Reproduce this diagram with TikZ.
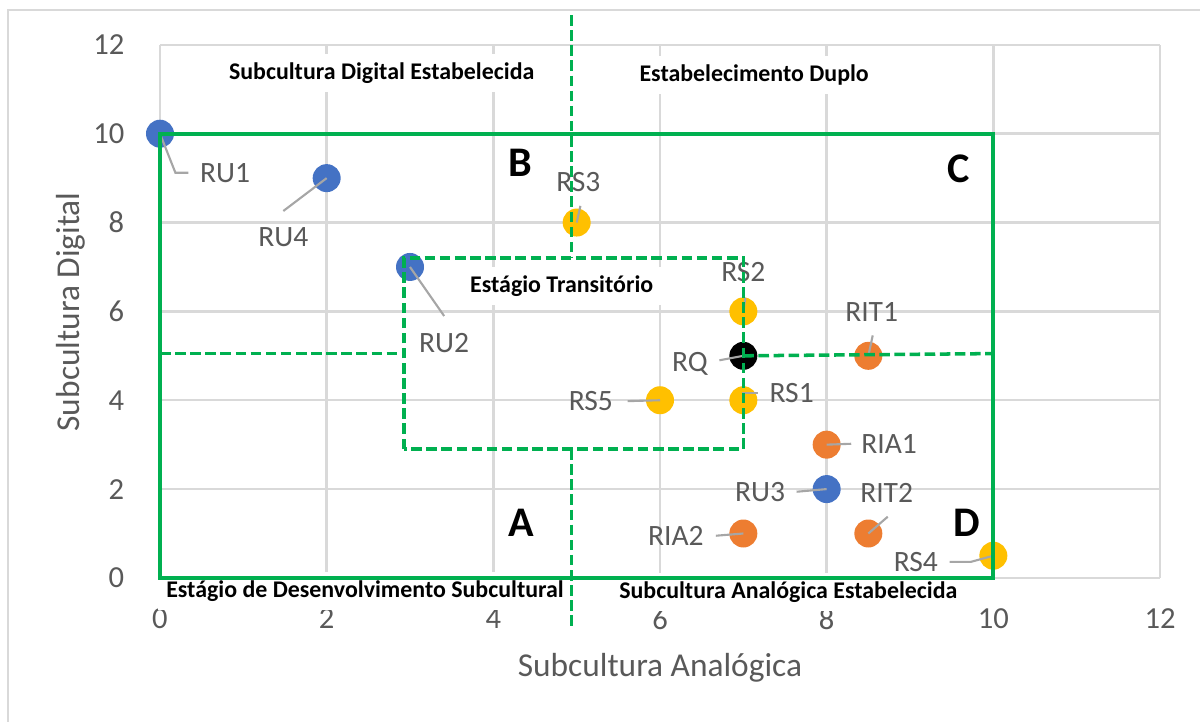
\documentclass[tikz,border=0pt]{standalone}
\usepackage{fontspec}
\setmainfont{Carlito}
\usetikzlibrary{positioning}
\definecolor{ChartBlue}{HTML}{4472C4}
\definecolor{ChartOrange}{HTML}{ED7D31}
\definecolor{ChartGold}{HTML}{FFC000}
\definecolor{ZoneGreen}{HTML}{00B050}
\definecolor{GridGray}{HTML}{D9D9D9}
\definecolor{TextGray}{HTML}{595959}
\definecolor{LeaderGray}{HTML}{A6A6A6}

\begin{document}
\begin{tikzpicture}[x=0.8333cm, y=0.4442cm,
  dot/.style={circle, inner sep=0pt, minimum size=0.28cm},
  ptlabel/.style={text=TextGray, font=\fontsize{8.4}{10}\selectfont, inner sep=0pt},
  leader/.style={draw=LeaderGray, line width=0.6pt},
  zone/.style={draw=ZoneGreen, line width=1.2pt},
  subzone/.style={draw=ZoneGreen, line width=1pt, dash pattern=on 3pt off 1.3pt},
  stage/.style={fill=white, inner sep=2.5pt, font=\fontsize{6.8}{8}\selectfont\bfseries},
  quad/.style={font=\fontsize{12}{14}\selectfont\bfseries},
  ticklbl/.style={text=TextGray, font=\fontsize{8.7}{10}\selectfont},
  axtitle/.style={text=TextGray, font=\fontsize{9.5}{11}\selectfont}]

    \useasboundingbox (-1.92,-3.24) rectangle (12.48,13.01);
    % chart frame
    \draw[GridGray, line width=0.7pt] (-1.824,-3.24) -- (-1.824,12.79) -- (12.48,12.79);

    % grid and ticks
    \foreach \v in {0,2,...,12} {
        \draw[GridGray, line width=0.7pt] (\v,0) -- (\v,12);
        \draw[GridGray, line width=0.7pt] (0,\v) -- (12,\v);
        \node[ticklbl, anchor=east] at (-0.28,\v) {\v};
        \node[ticklbl] at (\v,-0.92) {\v};
    }
    \node[axtitle] (xtitle) at (6.0,-2.03) {Subcultura Analógica};
    \node[axtitle, rotate=90] (ytitle) at (-1.07,5.99) {Subcultura Digital};

    % stages
    \node[stage] (digital) at (2.66,11.37) {Subcultura Digital Estabelecida};
    \node[stage] (duplo) at (7.13,11.32) {Estabelecimento Duplo};
    \node[stage] (transit) at (4.82,6.57) {Estágio Transitório};
    \node[stage] (desenv) at (2.46,-0.29) {Estágio de Desenvolvimento Subcultural};
    \node[stage] (analog) at (7.54,-0.32) {Subcultura Analógica Estabelecida};

    \node[quad] (qB) at (4.32,9.34) {B};
    \node[quad] (qC) at (9.58,9.21) {C};
    \node[quad] (qA) at (4.33,1.24) {A};
    \node[quad] (qD) at (9.68,1.24) {D};

    % data points
    \node[dot, fill=ChartBlue] (RU1) at (0,10) {};
    \node[dot, fill=ChartBlue] (RU4) at (2,9) {};
    \node[dot, fill=ChartBlue] (RU2) at (3,7) {};
    \node[dot, fill=ChartBlue] (RU3) at (8,2) {};
    \node[dot, fill=ChartGold] (RS3) at (5,8) {};
    \node[dot, fill=ChartGold] (RS2) at (7,6) {};
    \node[dot, fill=ChartGold] (RS1) at (7,4) {};
    \node[dot, fill=ChartGold] (RS5) at (6,4) {};
    \node[dot, fill=ChartGold] (RS4) at (10,0.5) {};
    \node[dot, fill=ChartOrange] (RIT1) at (8.5,5) {};
    \node[dot, fill=ChartOrange] (RIT2) at (8.5,1) {};
    \node[dot, fill=ChartOrange] (RIA1) at (8,3) {};
    \node[dot, fill=ChartOrange] (RIA2) at (7,1) {};
    \node[dot, fill=black] (RQ) at (7,5) {};

    % point labels
    \node[ptlabel] (tRU1) at (0.78,9.12) {RU1};
    \node[ptlabel] (tRU4) at (1.48,7.68) {RU4};
    \node[ptlabel] (tRU2) at (3.41,5.29) {RU2};
    \node[ptlabel] (tRU3) at (7.2,1.94) {RU3};
    \node[ptlabel] (tRS3) at (5.02,8.91) {RS3};
    \node[ptlabel] (tRS2) at (7.0,6.89) {RS2};
    \node[ptlabel] (tRS1) at (7.58,4.16) {RS1};
    \node[ptlabel] (tRS5) at (5.17,3.98) {RS5};
    \node[ptlabel] (tRS4) at (9.07,0.36) {RS4};
    \node[ptlabel] (tRIT1) at (8.54,5.99) {RIT1};
    \node[ptlabel] (tRIT2) at (8.72,1.91) {RIT2};
    \node[ptlabel] (tRIA1) at (8.75,3.02) {RIA1};
    \node[ptlabel] (tRIA2) at (6.19,0.95) {RIA2};
    \node[ptlabel] (tRQ) at (6.36,4.82) {RQ};

    % leader lines
    \draw[leader] (RU1.center) -- ([xshift=-6.8pt]tRU1.west) -- ([xshift=-3.1pt]tRU1.west);
    \draw[leader] (RU4.center) -- ([yshift=4.4pt]tRU4.north);
    \draw[leader] (RU2.center) -- ([yshift=4.7pt]tRU2.north);
    \draw[leader] (RU3.center) -- ([xshift=3.1pt]tRU3.east);
    \draw[leader] (RS3.center) -- ([xshift=0.6pt, yshift=-3.8pt]tRS3.south);
    \draw[leader] (RS2.center) -- ([xshift=0.6pt, yshift=-4.4pt]tRS2.south);
    \draw[leader] (RS1.center) |- ([xshift=-3.1pt]tRS1.west);
    \draw[leader] (RS5.center) -- ([xshift=4pt]tRS5.east);
    \draw[leader] ([xshift=3.1pt]tRS4.east) -- ++(6pt,0) -- (RS4.center);
    \draw[leader] (RIT1.center) -- ([xshift=0.3pt, yshift=-3.8pt]tRIT1.south);
    \draw[leader] (RIT2.center) -- ([xshift=0.3pt, yshift=-3.8pt]tRIT2.south);
    \draw[leader] (RIA1.center) -- ([xshift=-2.7pt]tRIA1.west);
    \draw[leader] (RIA2.center) -- ([xshift=3.3pt]tRIA2.east);
    \draw[leader] (RQ.center) -- ([xshift=3.1pt, yshift=1pt]tRQ.east);

    % zones
    \draw[zone] (0,0) rectangle (10,10);
    \draw[subzone] (2.93,2.9) rectangle (7,7.2);
    \draw[subzone] (4.94,12.67) -- (4.94,7.2);
    \draw[subzone] (4.94,2.9) -- (4.94,-1.17);
    \draw[subzone] (0,5.05) -- (2.93,5.05);
    \draw[subzone] (RQ.center) -- (10,5.05);

\end{tikzpicture}
\end{document}
